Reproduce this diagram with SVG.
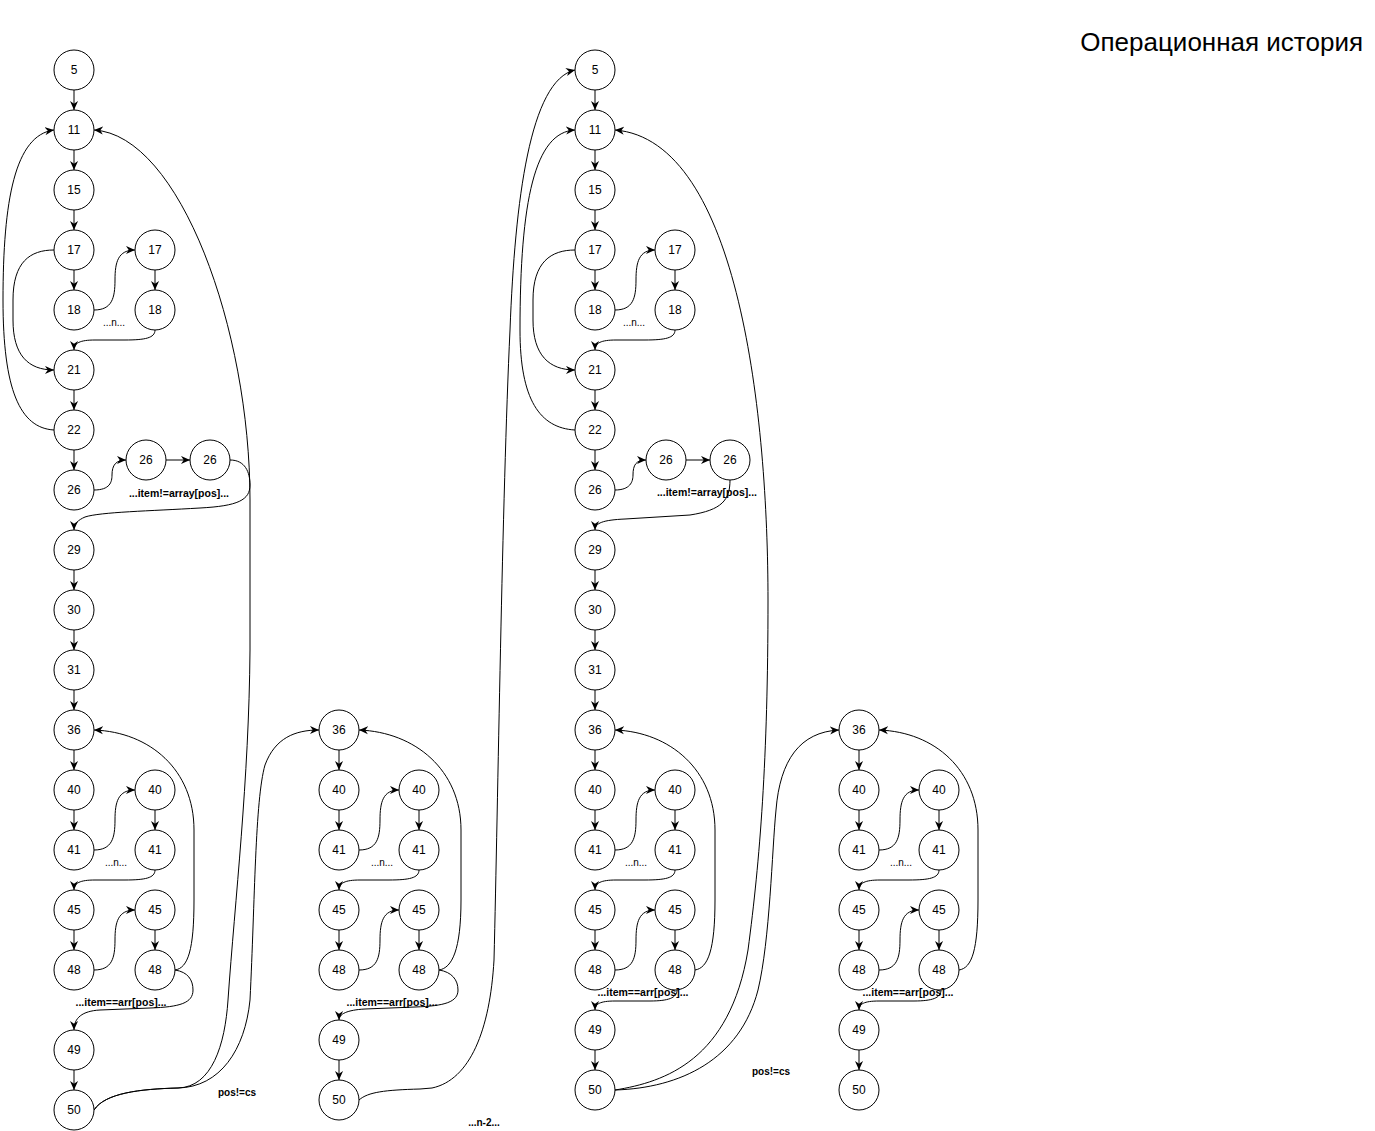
<svg xmlns="http://www.w3.org/2000/svg" width="1375" height="1131" viewBox="0 0 1375 1131">
<style>
.n circle{fill:#fff;stroke:#000;stroke-width:1}
.n text{font-family:"Liberation Sans",Arial,Helvetica,sans-serif;font-size:12px;text-anchor:middle;fill:#000}
.e path{fill:none;stroke:#000;stroke-width:1;marker-end:url(#arr)}
.lb{font-family:"Liberation Sans",Arial,Helvetica,sans-serif;font-size:10.5px;font-weight:bold;text-anchor:middle;fill:#000}
.ln{font-family:"Liberation Sans",Arial,Helvetica,sans-serif;font-size:10px;text-anchor:middle;fill:#000}
.title{font-family:"Liberation Sans",Arial,Helvetica,sans-serif;font-size:26px;text-anchor:end;fill:#000}
</style>
<defs>
<marker id="arr" viewBox="0 0 10 10" refX="10" refY="5" markerWidth="9" markerHeight="9" markerUnits="userSpaceOnUse" orient="auto">
<path d="M0,0.5 L10,5 L0,9.5 L3,5 Z" fill="#000"/>
</marker>
</defs>
<rect width="1375" height="1131" fill="#fff"/>
<text class="title" x="1363" y="51">Операционная история</text>

<g id="connectors" class="e">
<!-- Column A straight -->
<path d="M74,90 L74,110"/>
<path d="M74,150 L74,170"/>
<path d="M74,210 L74,230"/>
<path d="M74,270 L74,290"/>
<path d="M155,270 L155,290"/>
<path d="M74,390 L74,410"/>
<path d="M74,450 L74,470"/>
<path d="M166,460 L190,460"/>
<path d="M74,570 L74,590"/>
<path d="M74,630 L74,650"/>
<path d="M74,690 L74,710"/>
<path d="M74,750 L74,770"/>
<path d="M74,810 L74,830"/>
<path d="M155,810 L155,830"/>
<path d="M74,930 L74,950"/>
<path d="M155,930 L155,950"/>
<path d="M74,1070 L74,1090"/>
<!-- Column A curves -->
<path d="M54,250 C30,250 13,262 13,300 L13,320 C13,355 28,370 54,370"/>
<path d="M54,430 C20,428 3,390 3,300 C3,200 15,135 54,130"/>
<path d="M94,310 C112,310 115,298 115,280 C115,262 118,250 135,250"/>
<path d="M155,330 C155,338 145,340 125,340 L95,340 C80,340 74,343 74,350"/>
<path d="M94,490 C110,490 112,482 112,475 C112,465 116,460 126,460"/>
<path d="M230,460 C245,460 250,472 250,485 C250,500 238,506 200,508 C150,511 100,512 85,517 C78,520 74,524 74,530"/>
<path d="M94,850 C112,850 115,838 115,820 C115,802 118,790 135,790"/>
<path d="M155,870 C155,878 145,880 125,880 L95,880 C80,880 74,883 74,890"/>
<path d="M94,970 C112,970 115,958 115,940 C115,922 118,910 135,910"/>
<path d="M175,970 C188,968 194,950 194,900 L194,830 C194,770 150,732 94,730"/>
<path d="M175,970 C188,972 193,980 193,990 C193,1003 180,1007 150,1008 L100,1010 C82,1011 74,1018 74,1030"/>
<path d="M94,1110 C105,1093 140,1089 178,1088 C212,1087 225,1045 228,1000 C235,900 249,780 250,650 L250,500 C250,330 180,135 94,130"/>
<path d="M94,1110 C105,1093 140,1089 178,1088 C220,1087 245,1050 250,1000 C255,900 255,800 265,765 C275,738 295,730 319,730"/>
<!-- Column B straight -->
<path d="M339,750 L339,770"/>
<path d="M339,810 L339,830"/>
<path d="M419,810 L419,830"/>
<path d="M339,930 L339,950"/>
<path d="M419,930 L419,950"/>
<path d="M339,1060 L339,1080"/>
<!-- Column B curves -->
<path d="M359,850 C377,850 380,838 380,820 C380,802 383,790 399,790"/>
<path d="M419,870 C419,878 409,880 389,880 L360,880 C345,880 339,883 339,890"/>
<path d="M359,970 C377,970 380,958 380,940 C380,922 383,910 399,910"/>
<path d="M439,970 C452,968 461,950 461,900 L461,830 C461,770 415,732 359,730"/>
<path d="M439,970 C452,972 458,980 458,990 C458,1002 445,1006 415,1007 L365,1009 C347,1010 339,1014 339,1020"/>
<path d="M359,1100 C368,1092 385,1090 420,1089 L432,1088 C470,1080 490,1030 494,960 C498,800 502,500 510,330 C515,200 530,80 575,70"/>
<!-- Column C straight -->
<path d="M595,90 L595,110"/>
<path d="M595,150 L595,170"/>
<path d="M595,210 L595,230"/>
<path d="M595,270 L595,290"/>
<path d="M675,270 L675,290"/>
<path d="M595,390 L595,410"/>
<path d="M595,450 L595,470"/>
<path d="M686,460 L710,460"/>
<path d="M595,570 L595,590"/>
<path d="M595,630 L595,650"/>
<path d="M595,690 L595,710"/>
<path d="M595,750 L595,770"/>
<path d="M595,810 L595,830"/>
<path d="M675,810 L675,830"/>
<path d="M595,930 L595,950"/>
<path d="M675,930 L675,950"/>
<path d="M595,1050 L595,1070"/>
<!-- Column C curves -->
<path d="M575,250 C551,250 533,262 533,300 L533,320 C533,355 549,370 575,370"/>
<path d="M575,430 C540,428 520,400 520,330 C520,200 535,132 575,130"/>
<path d="M615,310 C633,310 636,298 636,280 C636,262 639,250 655,250"/>
<path d="M675,330 C675,338 665,340 645,340 L616,340 C601,340 595,343 595,350"/>
<path d="M615,490 C630,490 633,482 633,475 C633,465 636,460 646,460"/>
<path d="M730,480 C730,500 722,510 690,515 L625,519 C603,520 595,523 595,530"/>
<path d="M615,850 C633,850 636,838 636,820 C636,802 639,790 655,790"/>
<path d="M675,870 C675,878 665,880 645,880 L616,880 C601,880 595,883 595,890"/>
<path d="M615,970 C633,970 636,958 636,940 C636,922 639,910 655,910"/>
<path d="M695,970 C708,968 715,950 715,900 L715,830 C715,770 670,732 615,730"/>
<path d="M677,990 C677,998 668,1001 650,1001 L615,1001 C600,1001 595,1004 595,1010"/>
<path d="M615,1090 C665,1082 730,1060 748,950 C760,860 768,760 768,600 C768,420 740,140 615,130"/>
<path d="M615,1090 C680,1088 740,1060 758,990 C770,940 772,850 776,810 C780,760 800,732 839,730"/>
<!-- Column D straight -->
<path d="M859,750 L859,770"/>
<path d="M859,810 L859,830"/>
<path d="M939,810 L939,830"/>
<path d="M859,930 L859,950"/>
<path d="M939,930 L939,950"/>
<path d="M859,1050 L859,1070"/>
<!-- Column D curves -->
<path d="M879,850 C897,850 900,838 900,820 C900,802 903,790 919,790"/>
<path d="M939,870 C939,878 929,880 909,880 L880,880 C865,880 859,883 859,890"/>
<path d="M879,970 C897,970 900,958 900,940 C900,922 903,910 919,910"/>
<path d="M959,970 C972,968 978,950 978,900 L978,830 C978,770 935,732 879,730"/>
<path d="M941,990 C941,998 932,1001 914,1001 L879,1001 C864,1001 859,1004 859,1010"/>
</g>

<g id="nodesA">
<g id="a5" class="n"><circle cx="74" cy="70" r="20"/><text x="74" y="74">5</text></g>
<g id="a11" class="n"><circle cx="74" cy="130" r="20"/><text x="74" y="134">11</text></g>
<g id="a15" class="n"><circle cx="74" cy="190" r="20"/><text x="74" y="194">15</text></g>
<g id="a17" class="n"><circle cx="74" cy="250" r="20"/><text x="74" y="254">17</text></g>
<g id="a18" class="n"><circle cx="74" cy="310" r="20"/><text x="74" y="314">18</text></g>
<g id="a17b" class="n"><circle cx="155" cy="250" r="20"/><text x="155" y="254">17</text></g>
<g id="a18b" class="n"><circle cx="155" cy="310" r="20"/><text x="155" y="314">18</text></g>
<g id="a21" class="n"><circle cx="74" cy="370" r="20"/><text x="74" y="374">21</text></g>
<g id="a22" class="n"><circle cx="74" cy="430" r="20"/><text x="74" y="434">22</text></g>
<g id="a26" class="n"><circle cx="74" cy="490" r="20"/><text x="74" y="494">26</text></g>
<g id="a26b" class="n"><circle cx="146" cy="460" r="20"/><text x="146" y="464">26</text></g>
<g id="a26c" class="n"><circle cx="210" cy="460" r="20"/><text x="210" y="464">26</text></g>
<g id="a29" class="n"><circle cx="74" cy="550" r="20"/><text x="74" y="554">29</text></g>
<g id="a30" class="n"><circle cx="74" cy="610" r="20"/><text x="74" y="614">30</text></g>
<g id="a31" class="n"><circle cx="74" cy="670" r="20"/><text x="74" y="674">31</text></g>
<g id="a36" class="n"><circle cx="74" cy="730" r="20"/><text x="74" y="734">36</text></g>
<g id="a40" class="n"><circle cx="74" cy="790" r="20"/><text x="74" y="794">40</text></g>
<g id="a41" class="n"><circle cx="74" cy="850" r="20"/><text x="74" y="854">41</text></g>
<g id="a40b" class="n"><circle cx="155" cy="790" r="20"/><text x="155" y="794">40</text></g>
<g id="a41b" class="n"><circle cx="155" cy="850" r="20"/><text x="155" y="854">41</text></g>
<g id="a45" class="n"><circle cx="74" cy="910" r="20"/><text x="74" y="914">45</text></g>
<g id="a48" class="n"><circle cx="74" cy="970" r="20"/><text x="74" y="974">48</text></g>
<g id="a45b" class="n"><circle cx="155" cy="910" r="20"/><text x="155" y="914">45</text></g>
<g id="a48b" class="n"><circle cx="155" cy="970" r="20"/><text x="155" y="974">48</text></g>
<g id="a49" class="n"><circle cx="74" cy="1050" r="20"/><text x="74" y="1054">49</text></g>
<g id="a50" class="n"><circle cx="74" cy="1110" r="20"/><text x="74" y="1114">50</text></g>
</g>

<g id="nodesB">
<g id="b36" class="n"><circle cx="339" cy="730" r="20"/><text x="339" y="734">36</text></g>
<g id="b40" class="n"><circle cx="339" cy="790" r="20"/><text x="339" y="794">40</text></g>
<g id="b41" class="n"><circle cx="339" cy="850" r="20"/><text x="339" y="854">41</text></g>
<g id="b40b" class="n"><circle cx="419" cy="790" r="20"/><text x="419" y="794">40</text></g>
<g id="b41b" class="n"><circle cx="419" cy="850" r="20"/><text x="419" y="854">41</text></g>
<g id="b45" class="n"><circle cx="339" cy="910" r="20"/><text x="339" y="914">45</text></g>
<g id="b48" class="n"><circle cx="339" cy="970" r="20"/><text x="339" y="974">48</text></g>
<g id="b45b" class="n"><circle cx="419" cy="910" r="20"/><text x="419" y="914">45</text></g>
<g id="b48b" class="n"><circle cx="419" cy="970" r="20"/><text x="419" y="974">48</text></g>
<g id="b49" class="n"><circle cx="339" cy="1040" r="20"/><text x="339" y="1044">49</text></g>
<g id="b50" class="n"><circle cx="339" cy="1100" r="20"/><text x="339" y="1104">50</text></g>
</g>

<g id="nodesC">
<g id="c5" class="n"><circle cx="595" cy="70" r="20"/><text x="595" y="74">5</text></g>
<g id="c11" class="n"><circle cx="595" cy="130" r="20"/><text x="595" y="134">11</text></g>
<g id="c15" class="n"><circle cx="595" cy="190" r="20"/><text x="595" y="194">15</text></g>
<g id="c17" class="n"><circle cx="595" cy="250" r="20"/><text x="595" y="254">17</text></g>
<g id="c18" class="n"><circle cx="595" cy="310" r="20"/><text x="595" y="314">18</text></g>
<g id="c17b" class="n"><circle cx="675" cy="250" r="20"/><text x="675" y="254">17</text></g>
<g id="c18b" class="n"><circle cx="675" cy="310" r="20"/><text x="675" y="314">18</text></g>
<g id="c21" class="n"><circle cx="595" cy="370" r="20"/><text x="595" y="374">21</text></g>
<g id="c22" class="n"><circle cx="595" cy="430" r="20"/><text x="595" y="434">22</text></g>
<g id="c26" class="n"><circle cx="595" cy="490" r="20"/><text x="595" y="494">26</text></g>
<g id="c26b" class="n"><circle cx="666" cy="460" r="20"/><text x="666" y="464">26</text></g>
<g id="c26c" class="n"><circle cx="730" cy="460" r="20"/><text x="730" y="464">26</text></g>
<g id="c29" class="n"><circle cx="595" cy="550" r="20"/><text x="595" y="554">29</text></g>
<g id="c30" class="n"><circle cx="595" cy="610" r="20"/><text x="595" y="614">30</text></g>
<g id="c31" class="n"><circle cx="595" cy="670" r="20"/><text x="595" y="674">31</text></g>
<g id="c36" class="n"><circle cx="595" cy="730" r="20"/><text x="595" y="734">36</text></g>
<g id="c40" class="n"><circle cx="595" cy="790" r="20"/><text x="595" y="794">40</text></g>
<g id="c41" class="n"><circle cx="595" cy="850" r="20"/><text x="595" y="854">41</text></g>
<g id="c40b" class="n"><circle cx="675" cy="790" r="20"/><text x="675" y="794">40</text></g>
<g id="c41b" class="n"><circle cx="675" cy="850" r="20"/><text x="675" y="854">41</text></g>
<g id="c45" class="n"><circle cx="595" cy="910" r="20"/><text x="595" y="914">45</text></g>
<g id="c48" class="n"><circle cx="595" cy="970" r="20"/><text x="595" y="974">48</text></g>
<g id="c45b" class="n"><circle cx="675" cy="910" r="20"/><text x="675" y="914">45</text></g>
<g id="c48b" class="n"><circle cx="675" cy="970" r="20"/><text x="675" y="974">48</text></g>
<g id="c49" class="n"><circle cx="595" cy="1030" r="20"/><text x="595" y="1034">49</text></g>
<g id="c50" class="n"><circle cx="595" cy="1090" r="20"/><text x="595" y="1094">50</text></g>
</g>

<g id="nodesD">
<g id="d36" class="n"><circle cx="859" cy="730" r="20"/><text x="859" y="734">36</text></g>
<g id="d40" class="n"><circle cx="859" cy="790" r="20"/><text x="859" y="794">40</text></g>
<g id="d41" class="n"><circle cx="859" cy="850" r="20"/><text x="859" y="854">41</text></g>
<g id="d40b" class="n"><circle cx="939" cy="790" r="20"/><text x="939" y="794">40</text></g>
<g id="d41b" class="n"><circle cx="939" cy="850" r="20"/><text x="939" y="854">41</text></g>
<g id="d45" class="n"><circle cx="859" cy="910" r="20"/><text x="859" y="914">45</text></g>
<g id="d48" class="n"><circle cx="859" cy="970" r="20"/><text x="859" y="974">48</text></g>
<g id="d45b" class="n"><circle cx="939" cy="910" r="20"/><text x="939" y="914">45</text></g>
<g id="d48b" class="n"><circle cx="939" cy="970" r="20"/><text x="939" y="974">48</text></g>
<g id="d49" class="n"><circle cx="859" cy="1030" r="20"/><text x="859" y="1034">49</text></g>
<g id="d50" class="n"><circle cx="859" cy="1090" r="20"/><text x="859" y="1094">50</text></g>
</g>

<g id="labels">
<text class="ln" x="114" y="326">...n...</text>
<text class="lb" x="179" y="497">...item!=array[pos]...</text>
<text class="ln" x="116" y="866">...n...</text>
<text class="lb" x="121" y="1006">...item==arr[pos]...</text>
<text class="lb" x="237" y="1096" style="font-size:10px">pos!=cs</text>
<text class="ln" x="382" y="866">...n...</text>
<text class="lb" x="392" y="1006">...item==arr[pos]...</text>
<text class="lb" x="484" y="1126" style="font-size:10px">...n-2...</text>
<text class="ln" x="634" y="326">...n...</text>
<text class="lb" x="707" y="496">...item!=array[pos]...</text>
<text class="ln" x="636" y="866">...n...</text>
<text class="lb" x="643" y="996">...item==arr[pos]...</text>
<text class="lb" x="771" y="1075" style="font-size:10px">pos!=cs</text>
<text class="ln" x="901" y="866">...n...</text>
<text class="lb" x="908" y="996">...item==arr[pos]...</text>
</g>
</svg>
